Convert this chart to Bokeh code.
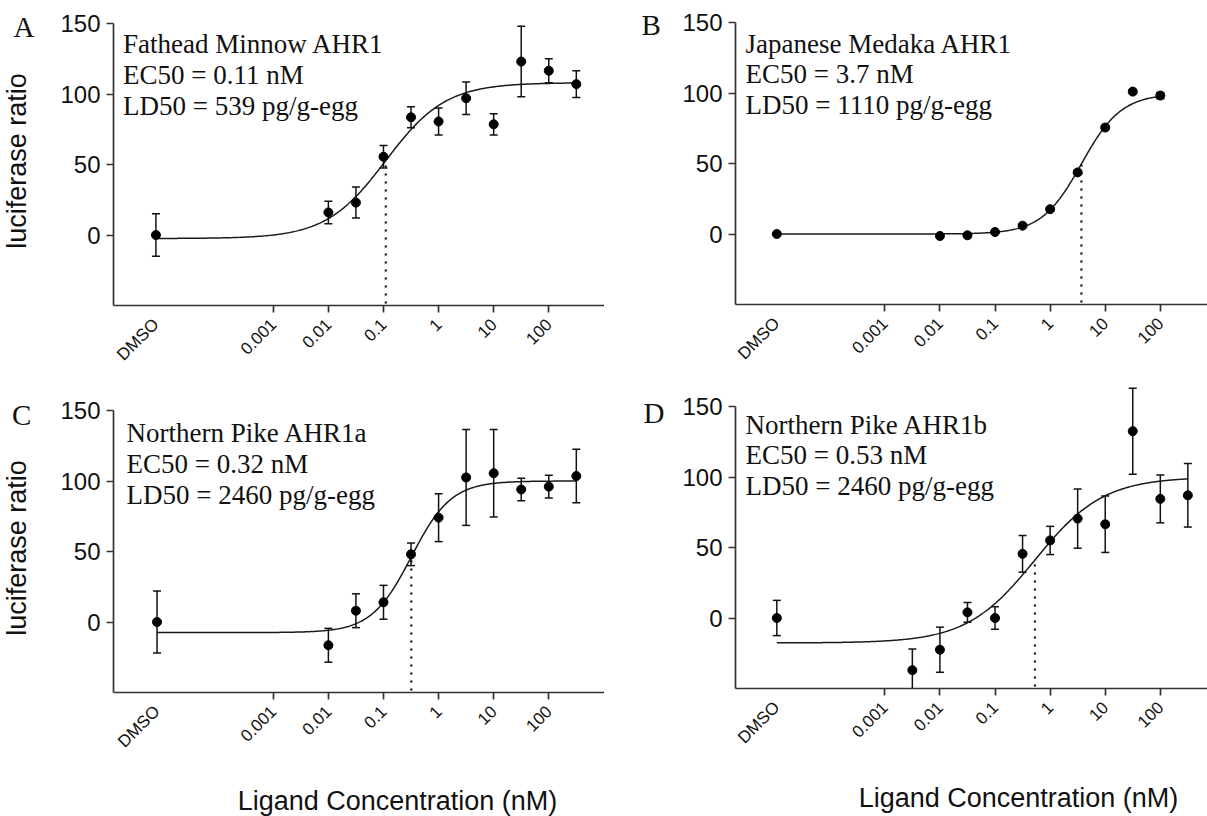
import numpy as np
from math import pi
from bokeh.plotting import figure
from bokeh.models import Range1d, FixedTicker, Label
from bokeh.layouts import column, row
from bokeh.embed import file_html
from bokeh.resources import INLINE

# ---------------- data ----------------
x_ticks = [0.001, 0.01, 0.1, 1, 10, 100]
x_tick_labels = ["0.001", "0.01", "0.1", "1", "10", "100"]
y_ticks = [0, 50, 100, 150]
dmso_label = "DMSO"
y_axis_title = "luciferase ratio"
x_axis_title = "Ligand Concentration (nM)"

# Panel A - Fathead Minnow AHR1
A_letter = "A"
A_text = ["Fathead Minnow AHR1", "EC50 = 0.11 nM", "LD50 = 539 pg/g-egg"]
A_dmso_x = 10 ** -5.13
A_dmso_mean, A_dmso_err = 0, 15
A_conc = [0.01, 0.0316, 0.1, 0.316, 1, 3.16, 10, 31.6, 100, 316]
A_mean = [16, 23, 55.5, 83.5, 80.5, 97, 78.5, 123, 116.5, 107]
A_err = [8, 11, 8, 7.5, 9.5, 11.5, 7.5, 25, 8.5, 9.5]
A_fit = dict(bottom=-2.5, top=108, ec50=0.11, hill=0.8)

# Panel B - Japanese Medaka AHR1
B_letter = "B"
B_text = ["Japanese Medaka AHR1", "EC50 = 3.7 nM", "LD50 = 1110 pg/g-egg"]
B_dmso_x = 10 ** -4.96
B_dmso_mean, B_dmso_err = 0, 0.8
B_conc = [0.01, 0.0316, 0.1, 0.316, 1, 3.16, 10, 31.6, 100]
B_mean = [-1.4, -0.9, 1.4, 5.9, 17.6, 43.7, 75.5, 101, 98.2]
B_err = [0.8, 0.8, 0.8, 1, 1.2, 1.5, 1.5, 1.5, 2.2]
B_fit = dict(bottom=0, top=99.5, ec50=3.7, hill=1.2)

# Panel C - Northern Pike AHR1a
C_letter = "C"
C_text = ["Northern Pike AHR1a", "EC50 = 0.32 nM", "LD50 = 2460 pg/g-egg"]
C_dmso_x = 10 ** -5.11
C_dmso_mean, C_dmso_err = 0, 22
C_conc = [0.01, 0.0316, 0.1, 0.316, 1, 3.16, 10, 31.6, 100, 316]
C_mean = [-16.5, 8, 14, 48, 74, 102.5, 105.5, 94, 96, 103.5]
C_err = [12, 12, 12, 8, 17, 34, 31, 8, 8, 19]
C_fit = dict(bottom=-7.5, top=100, ec50=0.32, hill=1.2)

# Panel D - Northern Pike AHR1b
D_letter = "D"
D_text = ["Northern Pike AHR1b", "EC50 = 0.53 nM", "LD50 = 2460 pg/g-egg"]
D_dmso_x = 10 ** -4.96
D_dmso_mean, D_dmso_err = 0, 12.5
D_conc = [0.00316, 0.01, 0.0316, 0.1, 0.316, 1, 3.16, 10, 31.6, 100, 316]
D_mean = [-37, -22.5, 4, 0, 45.5, 55, 70.5, 66.5, 132.5, 84.5, 87]
D_err = [15, 16, 7, 8, 13, 10, 21, 20, 30.5, 17, 22.5]
D_fit = dict(bottom=-17.7, top=100, ec50=0.53, hill=0.7)

# ---------------- layout (page pixels) ----------------
Y_AX_LO, Y_AX_HI = -50, 150
PPD = 55.1     # pixels per decade
PPU = 1.41     # pixels per y unit
SANS = "Liberation Sans"
SERIF = "Liberation Serif"
INK = "#111111"
AXIS = "#333333"
BASE_FIX = 0.3  # baseline correction (fraction of font size)
TICK_OUT = 7
X_STANDOFF = 9

layouts = {
    "A": dict(width=604, height=386, page_x=0, page_y=0, ax_px=113, ay_px=305, axis_lo=-5.9, axis_end_px=604,
              text_x=122.5, text_base=[52, 83, 114], letter=(13, 35),
              ylab=(25, 160.5), xlab=None),
    "B": dict(width=603, height=386, page_x=604, page_y=0, ax_px=735, ay_px=304, axis_lo=-5.71, axis_end_px=1207,
              text_x=745, text_base=[52, 82, 113], letter=(641, 33),
              ylab=None, xlab=None),
    "C": dict(width=604, height=430, page_x=0, page_y=386, ax_px=113, ay_px=692, axis_lo=-5.9, axis_end_px=604,
              text_x=126, text_base=[441, 472, 503], letter=(11.5, 423),
              ylab=(25, 547.5), xlab=(397, 809)),
    "D": dict(width=603, height=430, page_x=604, page_y=386, ax_px=735, ay_px=688, axis_lo=-5.71, axis_end_px=1207,
              text_x=745, text_base=[433, 463, 494], letter=(643, 421),
              ylab=None, xlab=(1018, 806)),
}


def hill_curve(x, bottom, top, ec50, hill):
    return bottom + (top - bottom) / (1 + 10 ** ((np.log10(ec50) - np.log10(x)) * hill))


def make_panel(key, letter, texts, dmso_x, dmso_mean, dmso_err, conc, mean, err, fit):
    L = layouts[key]
    W, H = L["width"], L["height"]
    log_left = L["axis_lo"] - (L["ax_px"] - L["page_x"]) / PPD
    log_right = L["axis_lo"] + (L["page_x"] + W - L["ax_px"]) / PPD
    y_bottom = Y_AX_LO - (L["page_y"] + H - L["ay_px"]) / PPU
    y_top = Y_AX_LO + (L["ay_px"] - L["page_y"]) / PPU

    p = figure(width=W, height=H, x_axis_type="log",
               x_range=Range1d(10 ** log_left, 10 ** log_right), y_range=Range1d(y_bottom, y_top),
               output_backend="svg", toolbar_location=None, title=None,
               min_border_left=0, min_border_right=0, min_border_top=0, min_border_bottom=0)
    p.outline_line_color = None
    p.xgrid.visible = False
    p.ygrid.visible = False
    p.background_fill_color = "white"
    p.border_fill_color = "white"

    def to_data(px, py):
        xd = 10 ** (log_left + (px - L["page_x"]) / PPD)
        yd = y_top - (py - L["page_y"]) / PPU
        return xd, yd

    def text_label(text, px, py, size, font, angle=0.0, align="left"):
        # place alphabetic baseline at page pixel (px, py)
        shift = BASE_FIX * size
        if angle == 0.0:
            py = py - shift
        else:
            px = px - shift
        tx, ty = to_data(px, py)
        p.add_layout(Label(x=tx, y=ty, text=text, angle=angle, text_align=align,
                           text_baseline="alphabetic", text_font=font,
                           text_font_size=f"{size}px", text_color=INK))

    x_axis_lo = 10 ** L["axis_lo"]
    x_axis_hi = 10 ** (L["axis_lo"] + (L["axis_end_px"] - L["ax_px"]) / PPD)

    # axes
    for ax in (p.xaxis[0], p.yaxis[0]):
        ax.axis_line_color = AXIS
        ax.axis_line_width = 1.7
        ax.major_tick_line_color = AXIS
        ax.major_tick_line_width = 1.7
        ax.major_tick_in = 0
        ax.major_tick_out = TICK_OUT
        ax.minor_tick_line_color = None
        ax.major_label_text_color = INK
        ax.major_label_text_font = SANS
    xa = p.xaxis[0]
    xa.fixed_location = Y_AX_LO
    xa.bounds = (x_axis_lo, x_axis_hi)
    xa.ticker = FixedTicker(ticks=x_ticks, minor_ticks=[])
    xa.major_label_overrides = dict(zip(x_ticks, x_tick_labels))
    xa.major_label_orientation = pi / 4
    xa.major_label_text_font_size = "17px"
    xa.major_label_standoff = X_STANDOFF
    ya = p.yaxis[0]
    ya.fixed_location = x_axis_lo
    ya.bounds = (Y_AX_LO, Y_AX_HI)
    ya.ticker = FixedTicker(ticks=y_ticks, minor_ticks=[])
    ya.major_label_text_font_size = "24px"
    ya.major_label_standoff = 6

    # DMSO category label (no tick mark)
    p.add_layout(Label(x=dmso_x, y=Y_AX_LO, y_offset=-(TICK_OUT + X_STANDOFF), text=dmso_label,
                       angle=pi / 4, text_align="right", text_baseline="middle", text_font=SANS,
                       text_font_size="17px", text_color=INK))

    # axis titles
    if L["ylab"] is not None:
        text_label(y_axis_title, L["ylab"][0], L["ylab"][1], 27, SANS, angle=pi / 2, align="center")
    if L["xlab"] is not None:
        text_label(x_axis_title, L["xlab"][0], L["xlab"][1], 27, SANS, align="center")

    xs = [dmso_x] + list(conc)
    ys = [dmso_mean] + list(mean)
    es = [dmso_err] + list(err)
    lo = np.array([y - e for y, e in zip(ys, es)])
    hi = np.array([y + e for y, e in zip(ys, es)])
    lo_vis = np.maximum(lo, Y_AX_LO)          # bars stop at the x axis
    xs_arr = np.array(xs)
    cap_lo_mask = lo >= Y_AX_LO

    # fitted curve
    cx = np.logspace(np.log10(dmso_x), np.log10(max(conc)), 400)
    cy = hill_curve(cx, **fit)
    p.line(cx, cy, line_color="#1a1a1a", line_width=1.5)

    # EC50 dotted drop line
    mid = hill_curve(np.array([fit["ec50"]]), **fit)[0]
    p.segment(x0=[fit["ec50"]], y0=[Y_AX_LO + 1.5], x1=[fit["ec50"]], y1=[mid],
              line_color="#111111", line_width=2.2, line_dash="2 6")

    # error bars
    p.segment(x0=xs_arr, y0=lo_vis, x1=xs_arr, y1=hi, line_color="#111111", line_width=1.5)
    p.scatter(xs_arr[cap_lo_mask], lo[cap_lo_mask], marker="dash", size=8,
              line_color="#111111", line_width=1.5)
    p.scatter(xs_arr, hi, marker="dash", size=8, line_color="#111111", line_width=1.5)
    # points
    p.scatter(xs, ys, marker="circle", size=9, fill_color="black", line_color="black")

    # annotation text
    for t, base in zip(texts, L["text_base"]):
        text_label(t, L["text_x"], base, 27, SERIF)
    text_label(letter, L["letter"][0], L["letter"][1], 29, SERIF)
    return p


pA = make_panel("A", A_letter, A_text, A_dmso_x, A_dmso_mean, A_dmso_err, A_conc, A_mean, A_err, A_fit)
pB = make_panel("B", B_letter, B_text, B_dmso_x, B_dmso_mean, B_dmso_err, B_conc, B_mean, B_err, B_fit)
pC = make_panel("C", C_letter, C_text, C_dmso_x, C_dmso_mean, C_dmso_err, C_conc, C_mean, C_err, C_fit)
pD = make_panel("D", D_letter, D_text, D_dmso_x, D_dmso_mean, D_dmso_err, D_conc, D_mean, D_err, D_fit)

layout = column(row(pA, pB), row(pC, pD))
open("out.html", "w").write(file_html(layout, INLINE))
